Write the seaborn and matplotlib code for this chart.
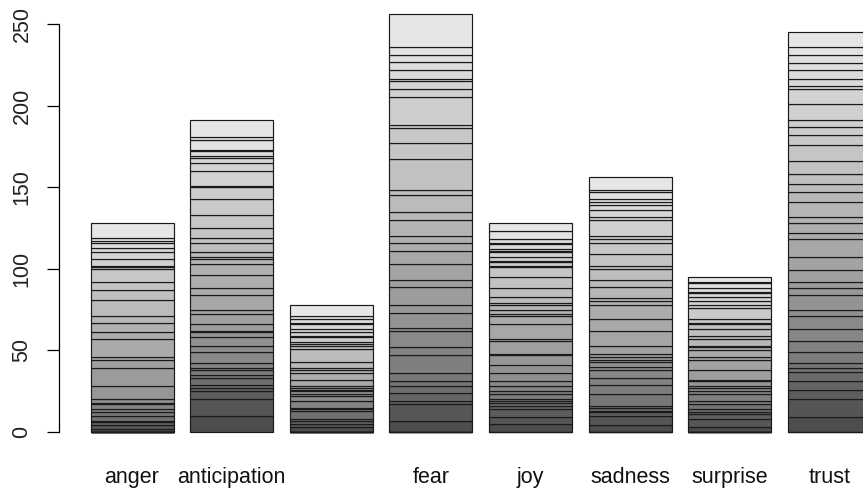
import numpy as np
import matplotlib
matplotlib.use("Agg")
import matplotlib.pyplot as plt
import seaborn as sns

# emotion categories (disgust label is dropped on the axis, as in the original)
emotions = ["anger", "anticipation", "disgust", "fear", "joy", "sadness", "surprise", "trust"]
shown_labels = ["anger", "anticipation", "", "fear", "joy", "sadness", "surprise", "trust"]

# stacked segment counts per emotion, bottom to top
anger = [2, 2, 2, 1, 3, 2, 2, 3, 1, 2, 8, 11, 5, 2, 11, 4, 6, 4, 10, 6, 5, 8, 1, 1, 4, 4, 3, 3, 1, 2, 9]
anticipation = [10, 10, 5, 2, 2, 4, 2, 3, 1, 3, 7, 4, 5, 3, 1, 4, 6, 3, 9, 4, 8, 7, 3, 1, 3, 6, 3, 6, 8, 10,
                7, 1, 9, 5, 3, 1, 3, 1, 6, 2, 10]
disgust = [3, 2, 2, 1, 5, 1, 1, 4, 3, 1, 2, 1, 1, 1, 4, 4, 2, 1, 4, 8, 2, 1, 1, 3, 1, 2, 2, 3, 1, 2, 2, 7]
fear = [7, 10, 2, 5, 4, 3, 5, 11, 5, 10, 2, 9, 5, 11, 4, 10, 8, 5, 4, 10, 5, 10, 3, 19, 10, 9, 2, 17, 5, 5,
        1, 6, 5, 4, 5, 20]
joy = [5, 4, 5, 2, 2, 1, 1, 3, 2, 3, 3, 5, 5, 6, 1, 8, 1, 9, 5, 1, 3, 3, 1, 4, 5, 7, 6, 1, 2, 1, 2, 3, 1, 1,
       3, 1, 2, 5, 5]
sadness = [4, 6, 2, 1, 2, 1, 7, 6, 4, 5, 2, 3, 1, 2, 2, 5, 9, 7, 9, 2, 2, 7, 4, 7, 2, 7, 7, 2, 2, 10, 2, 4,
           3, 2, 2, 4, 1, 8]
surprise = [3, 5, 3, 1, 2, 3, 2, 4, 2, 2, 1, 3, 1, 6, 6, 2, 4, 2, 1, 4, 2, 4, 3, 1, 2, 7, 2, 2, 3, 2, 1, 2,
            3, 1, 3]
trust = [9, 11, 6, 5, 6, 2, 3, 7, 7, 7, 8, 4, 9, 4, 4, 7, 8, 11, 4, 6, 4, 9, 6, 5, 6, 8, 10, 6, 5, 4, 10,
         9, 2, 4, 6, 4, 5, 5, 9]

y_ticks = [0, 50, 100, 150, 200, 250]

segments = [anger, anticipation, disgust, fear, joy, sadness, surprise, trust]


def gray_colors(n, start=0.3, end=0.9, gamma=2.2):
    # same ramp as R's gray.colors()
    lv = np.linspace(start ** gamma, end ** gamma, n) ** (1 / gamma)
    return [(v, v, v) for v in lv]


sns.set_style("white")
plt.rcParams['font.family'] = ['Liberation Sans', 'DejaVu Sans']

fig = plt.figure(figsize=(8.63, 4.92), dpi=100)
W, H = 863, 492
ax = fig.add_axes([59 / W, 1 - 445 / H, (863 - 59) / W, 440 / H])

n_layers = max(len(s) for s in segments)
ramps = [gray_colors(len(s)) for s in segments]

for j in range(n_layers):
    heights, bottoms, cols = [], [], []
    for s, ramp in zip(segments, ramps):
        if j < len(s):
            heights.append(s[j])
            bottoms.append(sum(s[:j]))
            cols.append(ramp[j])
        else:
            # bar already finished: empty layer sits on the baseline
            heights.append(0)
            bottoms.append(0)
            cols.append(ramp[0])
    sns.barplot(x=emotions, y=heights, bottom=bottoms, color="gray", facecolor=cols,
                edgecolor="#1a1a1a", linewidth=0.85, width=1 / 1.2,
                errorbar=None, ax=ax)

ax.set_xlim(-0.733, 7.339)
ax.set_ylim(-(445 - 432) / 1.632, (432 - 5) / 1.632)

ax.set_yticks(y_ticks)
ax.set_yticklabels([str(t) for t in y_ticks], rotation=90, va="center", fontsize=15.5)
ax.tick_params(axis="y", left=True, length=8.6, width=0.9, color="black", pad=10.5,
               labelcolor="#222222")

ax.set_xticks(range(len(emotions)))
ax.set_xticklabels(shown_labels, fontsize=15.5, color="#111111")
ax.tick_params(axis="x", bottom=False, length=0, pad=16)

for side in ["top", "right", "bottom"]:
    ax.spines[side].set_visible(False)
ax.spines["left"].set_bounds(0, 250)
ax.spines["left"].set_color("black")
ax.spines["left"].set_linewidth(0.9)
ax.set_xlabel("")
ax.set_ylabel("")

fig.savefig("out.png", dpi=100)
